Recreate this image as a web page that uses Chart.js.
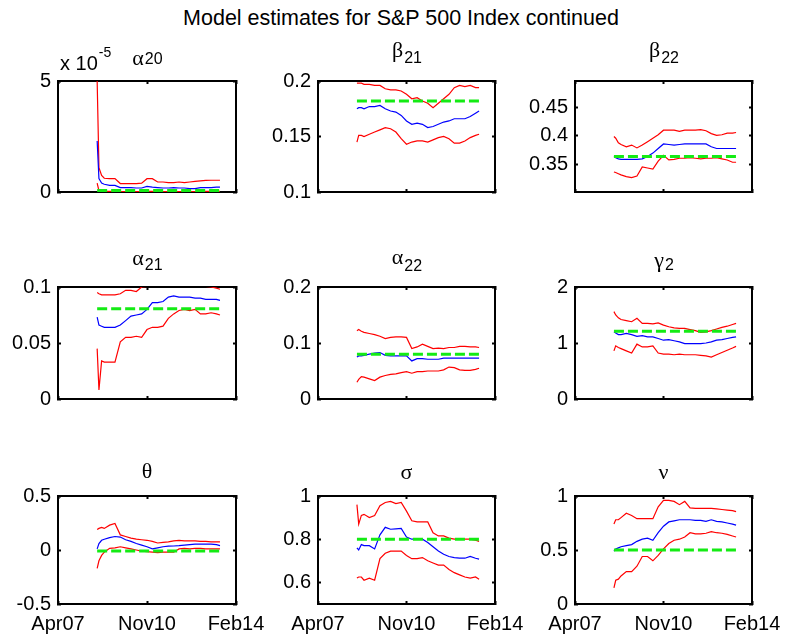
<!DOCTYPE html>
<html>
<head>
<meta charset="utf-8">
<script src="https://cdn.jsdelivr.net/npm/chart.js@4.4.1/dist/chart.umd.min.js"></script>
<style>
  body { margin: 0; background: #fff; width: 785px; height: 639px; overflow: hidden; position: relative;
         font-family: "Liberation Sans", Arial, sans-serif; }
  #title { position: absolute; left: 0; top: 8px; width: 785px; padding-left: 17px; box-sizing: border-box;
           text-align: center; font-size: 21.5px; line-height: 1; color: #000; white-space: nowrap; }
  .panel { position: absolute; }
</style>
</head>
<body>
<div id="title">Model estimates for S&amp;P 500 Index continued</div>
<script>

// time axis, 0..100 between Apr07 and Feb14
const xTickPos    = [0, 50, 100];
const xTickLabels = ['Apr07', 'Nov10', 'Feb14'];
const obsX = [22, 23, 24.5, 26, 29, 32, 35, 38, 41, 44, 47, 50, 53, 56, 59, 62, 65, 68, 71, 74, 77, 80, 83, 86, 89, 91];

// alpha_20 (x 1e-5)
const a20Hi  = [5.0, 1.1, 0.75, 0.62, 0.6, 0.6, 0.38, 0.38, 0.38, 0.38, 0.4, 0.6, 0.6, 0.45, 0.45, 0.42, 0.42, 0.45, 0.42, 0.45, 0.48, 0.5, 0.52, 0.53, 0.53, 0.53];
const a20Est = [2.3, 0.6, 0.4, 0.35, 0.3, 0.3, 0.2, 0.2, 0.2, 0.18, 0.18, 0.25, 0.22, 0.2, 0.18, 0.18, 0.2, 0.18, 0.18, 0.15, 0.15, 0.2, 0.2, 0.2, 0.22, 0.22];
const a20Lo  = [0.4, 0.06, 0.04, 0.03, 0.03, 0.03, 0.02, 0.02, 0.02, 0.02, 0.02, 0.03, 0.03, 0.02, 0.02, 0.02, 0.02, 0.02, 0.02, 0.02, 0.02, 0.03, 0.03, 0.03, 0.03, 0.03];
const a20True = 0.07;

// beta_21
const b21Hi  = [0.198, 0.198, 0.198, 0.197, 0.197, 0.196, 0.196, 0.193, 0.192, 0.192, 0.191, 0.188, 0.184, 0.185, 0.182, 0.18, 0.176, 0.18, 0.184, 0.188, 0.194, 0.196, 0.195, 0.196, 0.194, 0.194];
const b21Est = [0.175, 0.176, 0.176, 0.175, 0.177, 0.177, 0.178, 0.175, 0.173, 0.172, 0.169, 0.164, 0.161, 0.162, 0.161, 0.158, 0.159, 0.161, 0.163, 0.164, 0.166, 0.166, 0.166, 0.168, 0.171, 0.173];
const b21Lo  = [0.145, 0.151, 0.151, 0.15, 0.152, 0.154, 0.156, 0.158, 0.157, 0.154, 0.148, 0.143, 0.145, 0.146, 0.146, 0.145, 0.147, 0.149, 0.15, 0.148, 0.144, 0.144, 0.146, 0.149, 0.151, 0.152];
const b21True = 0.182;

// beta_22
const b22Hi  = [0.399, 0.396, 0.388, 0.385, 0.381, 0.384, 0.379, 0.384, 0.39, 0.396, 0.402, 0.41, 0.41, 0.41, 0.408, 0.41, 0.41, 0.41, 0.411, 0.409, 0.404, 0.401, 0.402, 0.405, 0.405, 0.406];
const b22Est = [0.364, 0.362, 0.36, 0.359, 0.359, 0.359, 0.359, 0.36, 0.364, 0.37, 0.378, 0.386, 0.385, 0.384, 0.385, 0.386, 0.386, 0.386, 0.386, 0.386, 0.381, 0.378, 0.378, 0.378, 0.378, 0.378];
const b22Lo  = [0.337, 0.336, 0.334, 0.332, 0.329, 0.327, 0.33, 0.346, 0.344, 0.342, 0.356, 0.366, 0.358, 0.359, 0.361, 0.361, 0.362, 0.361, 0.36, 0.361, 0.361, 0.362, 0.36, 0.358, 0.354, 0.354];
const b22True = 0.364;

// alpha_21
const a21Hi  = [0.095, 0.094, 0.093, 0.093, 0.093, 0.093, 0.094, 0.097, 0.097, 0.096, 0.1, 0.1005, 0.1005, 0.1005, 0.1005, 0.1005, 0.1005, 0.1005, 0.1005, 0.1005, 0.1005, 0.1005, 0.1005, 0.1, 0.099, 0.098];
const a21Est = [0.073, 0.066, 0.065, 0.064, 0.064, 0.064, 0.066, 0.07, 0.074, 0.075, 0.076, 0.08, 0.086, 0.086, 0.087, 0.091, 0.092, 0.091, 0.091, 0.091, 0.09, 0.09, 0.089, 0.089, 0.089, 0.088];
const a21Lo  = [0.045, 0.008, 0.034, 0.033, 0.033, 0.033, 0.051, 0.055, 0.055, 0.056, 0.055, 0.062, 0.064, 0.064, 0.065, 0.072, 0.076, 0.079, 0.08, 0.079, 0.08, 0.076, 0.076, 0.077, 0.076, 0.075];
const a21True = 0.0805;

// alpha_22
const a22Hi  = [0.122, 0.124, 0.121, 0.119, 0.117, 0.115, 0.112, 0.108, 0.11, 0.111, 0.111, 0.11, 0.09, 0.093, 0.098, 0.094, 0.09, 0.091, 0.09, 0.092, 0.092, 0.094, 0.094, 0.093, 0.093, 0.092];
const a22Est = [0.075, 0.077, 0.077, 0.078, 0.08, 0.082, 0.083, 0.078, 0.077, 0.077, 0.077, 0.077, 0.068, 0.072, 0.072, 0.071, 0.071, 0.071, 0.073, 0.073, 0.073, 0.073, 0.073, 0.073, 0.073, 0.073];
const a22Lo  = [0.03, 0.035, 0.04, 0.039, 0.036, 0.033, 0.039, 0.042, 0.044, 0.045, 0.047, 0.049, 0.046, 0.049, 0.049, 0.05, 0.05, 0.05, 0.052, 0.057, 0.056, 0.052, 0.051, 0.051, 0.053, 0.055];
const a22True = 0.08;

// gamma_2
const g2Hi  = [1.56, 1.5, 1.45, 1.42, 1.4, 1.38, 1.44, 1.35, 1.35, 1.34, 1.36, 1.32, 1.29, 1.27, 1.26, 1.26, 1.24, 1.22, 1.19, 1.2, 1.22, 1.25, 1.28, 1.3, 1.33, 1.35];
const g2Est = [1.2, 1.18, 1.15, 1.15, 1.17, 1.15, 1.12, 1.13, 1.11, 1.11, 1.08, 1.05, 1.06, 1.04, 1.02, 0.99, 0.99, 0.99, 0.99, 1.0, 1.02, 1.05, 1.06, 1.08, 1.1, 1.11];
const g2Lo  = [0.86, 0.95, 0.92, 0.9, 0.86, 0.82, 0.98, 0.93, 0.93, 0.95, 0.82, 0.8, 0.8, 0.79, 0.8, 0.79, 0.79, 0.79, 0.78, 0.77, 0.75, 0.79, 0.83, 0.87, 0.91, 0.94];
const g2True = 1.21;

// theta
const thHi  = [0.19, 0.2, 0.21, 0.2, 0.23, 0.245, 0.14, 0.125, 0.11, 0.1, 0.095, 0.09, 0.08, 0.065, 0.07, 0.075, 0.085, 0.09, 0.085, 0.085, 0.085, 0.08, 0.08, 0.075, 0.075, 0.075];
const thEst = [0.01, 0.06, 0.09, 0.1, 0.115, 0.125, 0.12, 0.095, 0.08, 0.06, 0.045, 0.03, 0.01, 0.02, 0.03, 0.035, 0.037, 0.04, 0.046, 0.05, 0.055, 0.055, 0.055, 0.055, 0.05, 0.04];
const thLo  = [-0.17, -0.1, -0.05, -0.02, 0.015, 0.02, 0.03, 0.02, 0.01, 0.0, -0.01, -0.015, -0.02, -0.025, -0.02, -0.02, -0.02, 0.01, 0.015, 0.01, 0.015, 0.015, 0.01, 0.01, 0.01, 0.01];
const thTrue = -0.01;

// sigma
const sgHi  = [0.96, 0.87, 0.91, 0.915, 0.9, 0.91, 0.955, 0.97, 0.975, 0.965, 0.97, 0.93, 0.885, 0.88, 0.88, 0.88, 0.83, 0.815, 0.815, 0.805, 0.8, 0.8, 0.8, 0.8, 0.795, 0.79];
const sgEst = [0.76, 0.75, 0.775, 0.77, 0.77, 0.755, 0.82, 0.855, 0.846, 0.848, 0.85, 0.81, 0.8, 0.8, 0.8, 0.785, 0.765, 0.745, 0.73, 0.72, 0.715, 0.712, 0.712, 0.72, 0.712, 0.708];
const sgLo  = [0.62, 0.625, 0.625, 0.61, 0.62, 0.61, 0.71, 0.735, 0.745, 0.745, 0.745, 0.725, 0.71, 0.71, 0.715, 0.7, 0.69, 0.68, 0.68, 0.66, 0.645, 0.635, 0.625, 0.62, 0.625, 0.615];
const sgTrue = 0.8;

// nu
const nuHi  = [0.74, 0.78, 0.78, 0.8, 0.84, 0.82, 0.79, 0.79, 0.79, 0.79, 0.9, 0.96, 0.96, 0.95, 0.92, 0.95, 0.89, 0.885, 0.885, 0.885, 0.885, 0.88, 0.875, 0.87, 0.865, 0.855];
const nuEst = [0.49, 0.51, 0.52, 0.53, 0.54, 0.55, 0.58, 0.6, 0.61, 0.59, 0.66, 0.72, 0.76, 0.77, 0.78, 0.78, 0.78, 0.775, 0.775, 0.765, 0.78, 0.765, 0.76, 0.75, 0.74, 0.73];
const nuLo  = [0.15, 0.22, 0.23, 0.26, 0.3, 0.3, 0.35, 0.44, 0.44, 0.4, 0.45, 0.51, 0.56, 0.59, 0.6, 0.62, 0.66, 0.65, 0.65, 0.655, 0.67, 0.66, 0.655, 0.645, 0.63, 0.62];
const nuTrue = 0.5;

// y limits and ticks per panel
const yLimits = [[0, 5], [0.1, 0.2], [0.302, 0.496], [0, 0.1], [0, 0.2], [0, 2], [-0.5, 0.5], [0.5, 1], [0, 1]];
const yTicks  = [[0, 5], [0.1, 0.15, 0.2], [0.35, 0.4, 0.45], [0, 0.05, 0.1], [0, 0.1, 0.2], [0, 1, 2], [-0.5, 0, 0.5], [0.6, 0.8, 1], [0, 0.5, 1]];

const panels = [
    { sym: 'α', sub: '20', hi: a20Hi, est: a20Est, lo: a20Lo, truth: a20True, symDy: 16, subDy: 17, exp: '-5' },
    { sym: 'β', sub: '21', hi: b21Hi, est: b21Est, lo: b21Lo, truth: b21True, symDy: 24, subDy: 18 },
    { sym: 'β', sub: '22', hi: b22Hi, est: b22Est, lo: b22Lo, truth: b22True, symDy: 24, subDy: 18 },
    { sym: 'α', sub: '21', hi: a21Hi, est: a21Est, lo: a21Lo, truth: a21True, symDy: 22, subDy: 17 },
    { sym: 'α', sub: '22', hi: a22Hi, est: a22Est, lo: a22Lo, truth: a22True, symDy: 23, subDy: 16 },
    { sym: 'γ', sub: '2',  hi: g2Hi,  est: g2Est,  lo: g2Lo,  truth: g2True,  symDy: 20, subDy: 17 },
    { sym: 'θ', sub: '',   hi: thHi,  est: thEst,  lo: thLo,  truth: thTrue,  symDy: 18, subDy: 18 },
    { sym: 'σ', sub: '',   hi: sgHi,  est: sgEst,  lo: sgLo,  truth: sgTrue,  symDy: 17, subDy: 17 },
    { sym: 'ν', sub: '',   hi: nuHi,  est: nuEst,  lo: nuLo,  truth: nuTrue,  symDy: 17, subDy: 17 }
];

// axes boxes on the page
const colLeft   = [58, 318, 575];
const colWidth  = [178, 177, 177];
const rowTop    = [81, 287, 496];
const rowHeight = [111, 112, 108];

const PAD_L = 58, PAD_T = 45, PAD_R = 32, PAD_B = 34;
const sansFont = '"Liberation Sans", Arial, sans-serif';
const serifFont = '"Liberation Serif", "Times New Roman", serif';

// greek panel title and the exponent label
const panelTitle = {
    id: 'panelTitle',
    afterDraw( chart, args, opts ) {
        const ctx = chart.ctx, a = chart.chartArea;
        ctx.save();
        ctx.fillStyle = '#000';
        ctx.textBaseline = 'alphabetic';
        ctx.textAlign = 'left';
        ctx.font = '22px ' + serifFont;
        const wSym = ctx.measureText( opts.sym ).width;
        ctx.font = '16px ' + sansFont;
        const wSub = opts.sub ? ctx.measureText( opts.sub ).width : 0;
        const tx = ( a.left + a.right ) / 2 - ( wSym + wSub ) / 2;
        ctx.font = '22px ' + serifFont;
        ctx.fillText( opts.sym, tx, a.top - opts.symDy );
        if ( opts.sub ) {
            ctx.font = '16px ' + sansFont;
            ctx.fillText( opts.sub, tx + wSym + 1, a.top - opts.subDy );
        }
        if ( opts.exp ) {
            ctx.font = '20px ' + sansFont;
            ctx.fillText( 'x 10', a.left + 2, a.top - 11 );
            const w = ctx.measureText( 'x 10' ).width;
            ctx.font = '14px ' + sansFont;
            ctx.fillText( opts.exp, a.left + 2 + w + 1, a.top - 24 );
        }
        ctx.restore();
    }
};

function toPoints( ys ) {
    return obsX.map( ( x, k ) => ( { x, y: ys[k] } ) );
}

// one side of the matlab box: black border plus short inward ticks
function boxSide( extra ) {
    return Object.assign( {
        grid: { display: true, drawOnChartArea: false, drawTicks: true, tickLength: -3, tickWidth: 2, tickColor: '#000' },
        border: { display: true, color: '#000', width: 2 }
    }, extra );
}

function makePanel( p, i ) {
    const col = i % 3, row = Math.floor( i / 3 );
    const axW = colWidth[col], axH = rowHeight[row];
    const W = PAD_L + axW + PAD_R, H = PAD_T + axH + PAD_B;

    const div = document.createElement( 'div' );
    div.className = 'panel';
    div.style.left = ( colLeft[col] - PAD_L ) + 'px';
    div.style.top  = ( rowTop[row] - PAD_T ) + 'px';
    const cv = document.createElement( 'canvas' );
    cv.width = W; cv.height = H;
    cv.style.width = W + 'px'; cv.style.height = H + 'px';
    div.appendChild( cv );
    document.body.appendChild( div );

    const xMin = xTickPos[0], xMax = xTickPos[xTickPos.length - 1];
    const setX = s => { s.ticks = xTickPos.map( v => ( { value: v } ) ); };
    const setY = s => { s.ticks = yTicks[i].map( v => ( { value: v } ) ); };

    new Chart( cv, {
        type: 'line',
        data: {
            datasets: [
                { data: toPoints( p.hi ),  borderColor: '#ff0000', order: 3 },
                { data: toPoints( p.lo ),  borderColor: '#ff0000', order: 3 },
                { data: toPoints( p.est ), borderColor: '#0000ff', order: 2 },
                { data: [ { x: obsX[0], y: p.truth }, { x: obsX[obsX.length - 1], y: p.truth } ],
                  borderColor: 'rgb(20,235,20)', borderWidth: 3, borderDash: [10, 4], order: 1 }
            ]
        },
        options: {
            responsive: false,
            animation: false,
            devicePixelRatio: 1,
            layout: { padding: { left: 0, top: PAD_T, right: PAD_R, bottom: 0 } },
            elements: { point: { radius: 0 }, line: { borderWidth: 1.2, tension: 0 } },
            plugins: {
                legend: { display: false },
                tooltip: { enabled: false },
                panelTitle: { sym: p.sym, sub: p.sub, symDy: p.symDy, subDy: p.subDy, exp: p.exp }
            },
            scales: {
                x: boxSide( {
                    type: 'linear', position: 'bottom', min: xMin, max: xMax,
                    afterBuildTicks: setX,
                    ticks: {
                        display: row === 2,
                        autoSkip: false, maxRotation: 0, padding: 11, color: '#000',
                        font: { family: sansFont, size: 20 },
                        callback: v => xTickLabels[xTickPos.indexOf( v )]
                    },
                    afterFit: s => { s.height = PAD_B; s.paddingLeft = 0; s.paddingRight = 0; }
                } ),
                xTop: boxSide( {
                    type: 'linear', position: 'top', axis: 'x', min: xMin, max: xMax,
                    afterBuildTicks: setX,
                    ticks: { display: false },
                    afterFit: s => { s.height = 0; s.paddingLeft = 0; s.paddingRight = 0; }
                } ),
                y: boxSide( {
                    type: 'linear', position: 'left', min: yLimits[i][0], max: yLimits[i][1],
                    afterBuildTicks: setY,
                    ticks: {
                        autoSkip: false, padding: 10, color: '#000',
                        font: { family: sansFont, size: 20 },
                        callback: v => String( v )
                    },
                    afterFit: s => { s.width = PAD_L; s.paddingTop = 0; s.paddingBottom = 0; }
                } ),
                yRight: boxSide( {
                    type: 'linear', position: 'right', axis: 'y', min: yLimits[i][0], max: yLimits[i][1],
                    afterBuildTicks: setY,
                    ticks: { display: false },
                    afterFit: s => { s.width = 0; s.paddingTop = 0; s.paddingBottom = 0; }
                } )
            }
        },
        plugins: [ panelTitle ]
    } );
}

panels.forEach( makePanel );

</script>
</body>
</html>
